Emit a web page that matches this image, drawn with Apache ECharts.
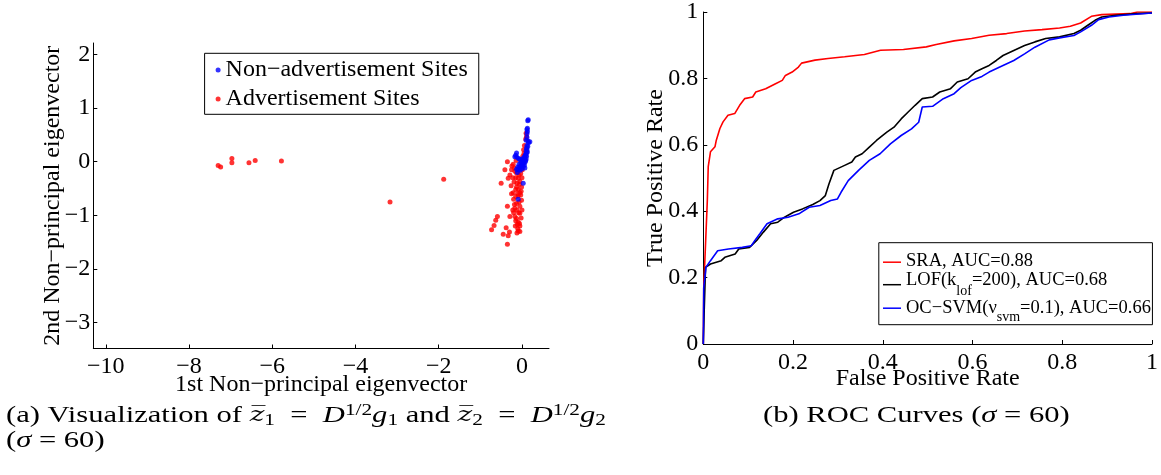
<!DOCTYPE html>
<html>
<head>
<meta charset="utf-8">
<script src="https://cdn.jsdelivr.net/npm/echarts@6/dist/echarts.min.js"></script>
<style>
  html, body { margin: 0; padding: 0; background: #fff; }
  #chart { width: 1161px; height: 475px; }
</style>
</head>
<body>
<div id="chart"></div>
<script>
// ---------- (a) projection onto the two non-principal eigenvectors ----------
const nonAdSites = [
  [0.15, 0.78], [0.14, 0.76], [0.13, 0.62], [0.12, 0.60], [0.13, 0.56], [0.12, 0.52],
  [0.12, 0.45], [0.10, 0.40], [0.15, 0.38], [0.19, 0.37], [0.16, 0.35], [0.14, 0.28],
  [0.12, 0.30], [0.11, 0.25], [0.12, 0.22], [0.10, 0.20], [0.13, 0.18], [0.11, 0.16],
  [0.09, 0.14], [0.08, 0.12], [0.11, 0.10], [0.07, 0.09], [0.05, 0.08], [0.06, 0.05],
  [0.10, 0.05], [0.04, 0.02], [0.02, 0.03], [0.09, 0.02], [0.08, 0.00], [-0.13, 0.16],
  [-0.15, 0.12], [-0.17, 0.09], [-0.12, 0.08], [-0.08, 0.06], [-0.05, 0.04], [-0.01, 0.00],
  [0.00, 0.05], [-0.03, -0.02], [-0.05, -0.09], [-0.07, -0.05], [-0.09, -0.15], [-0.10, -0.10],
  [-0.06, -0.12], [-0.02, -0.08], [0.02, -0.05], [0.05, -0.02], [0.03, -0.09], [0.06, -0.06],
  [0.07, -0.12], [-0.11, -0.20], [-0.13, -0.14], [-0.04, -0.16], [0.00, -0.13], [0.03, -0.40],
  [-0.09, -0.70]
];
const adSites = [
  // far-left outliers
  [-7.30, -0.07], [-7.24, -0.10], [-6.97, 0.06], [-6.97, -0.02], [-6.56, -0.02],
  [-6.41, 0.02], [-5.78, 0.01], [-3.17, -0.75], [-1.88, -0.33],
  // main column near zero
  [0.11, 0.47], [0.10, 0.53], [0.09, 0.42], [0.05, 0.15], [0.02, 0.10], [0.04, 0.22],
  [0.06, 0.30], [-0.35, 0.00], [-0.41, -0.15], [-0.29, -0.25], [-0.33, -0.31], [-0.50, -0.40],
  [-0.17, -0.18], [-0.09, -0.31], [-0.13, -0.47], [-0.09, -0.52], [-0.05, -0.58], [-0.35, -0.83],
  [-0.13, -0.78], [-0.17, -0.87], [-0.05, -0.83], [-0.29, -1.02], [-0.59, -1.02], [-0.63, -1.09],
  [-0.67, -1.19], [-0.73, -1.27], [-0.38, -1.23], [-0.45, -1.35], [-0.30, -1.31], [-0.33, -1.38],
  [-0.35, -1.54], [-0.13, -1.06], [-0.09, -1.13], [-0.05, -1.20], [-0.09, -1.29], [-0.17, -1.02],
  [-0.05, -0.96], [-0.01, -0.72], [-0.21, -0.05], [-0.25, -0.15], [-0.13, -0.21], [-0.05, -0.37],
  [-0.01, -0.47], [-0.21, -0.58], [-0.09, -0.64], [-0.15, -0.30], [-0.12, -0.40], [-0.10, -0.60],
  [-0.15, -0.65], [-0.20, -0.70], [-0.07, -0.75], [-0.12, -0.90], [-0.08, -0.95], [-0.20, -0.95],
  [-0.15, -1.10], [-0.10, -1.25], [-0.05, -1.30], [-0.12, -1.33], [-0.18, -0.80], [-0.22, -0.90],
  [-0.25, -0.60], [-0.03, -0.22], [0.00, -0.30], [-0.07, -0.25], [-0.18, -0.12], [-0.22, -0.30],
  [-0.15, -0.52], [-0.03, -0.62], [-0.02, -1.05], [-0.06, -1.15], [-0.16, -1.20], [-0.11, -1.17],
  [0.00, -0.90], [-0.26, -0.45], [-0.19, -0.38], [-0.24, -0.08], [-0.14, 0.02], [-0.06, -0.42],
  [0.01, -0.15], [-0.02, -0.55]
];
const eigXTicks = [-10, -8, -6, -4, -2, 0];
const eigYTicks = [-3, -2, -1, 0, 1, 2];

// ---------- (b) ROC curves: [false positive rate, true positive rate] ----------
const rocSRA = [
  [0, 0], [0.001, 0.17], [0.009, 0.433], [0.011, 0.534], [0.016, 0.579], [0.026, 0.594],
  [0.029, 0.614], [0.037, 0.649], [0.044, 0.669], [0.055, 0.689], [0.070, 0.694], [0.081, 0.719],
  [0.092, 0.739], [0.110, 0.744], [0.117, 0.759], [0.139, 0.769], [0.161, 0.784], [0.176, 0.794],
  [0.183, 0.809], [0.198, 0.819], [0.212, 0.834], [0.219, 0.846], [0.249, 0.855], [0.278, 0.860],
  [0.315, 0.865], [0.359, 0.872], [0.395, 0.885], [0.446, 0.887], [0.497, 0.895], [0.519, 0.902],
  [0.559, 0.913], [0.598, 0.920], [0.637, 0.930], [0.676, 0.935], [0.716, 0.943], [0.755, 0.947],
  [0.794, 0.952], [0.818, 0.957], [0.841, 0.967], [0.865, 0.987], [0.888, 0.992], [0.951, 0.995],
  [0.967, 1.0], [1.0, 1.0]
];
const rocLOF = [
  [0, 0], [0.002, 0.10], [0.005, 0.231], [0.016, 0.241], [0.040, 0.251], [0.048, 0.261],
  [0.071, 0.271], [0.079, 0.286], [0.103, 0.291], [0.119, 0.312], [0.134, 0.337], [0.150, 0.362],
  [0.166, 0.367], [0.181, 0.382], [0.201, 0.397], [0.221, 0.407], [0.244, 0.420], [0.260, 0.432],
  [0.272, 0.447], [0.280, 0.482], [0.291, 0.523], [0.315, 0.538], [0.331, 0.548], [0.339, 0.563],
  [0.354, 0.573], [0.370, 0.593], [0.386, 0.613], [0.409, 0.638], [0.425, 0.653], [0.441, 0.678],
  [0.456, 0.698], [0.472, 0.719], [0.488, 0.739], [0.511, 0.744], [0.527, 0.759], [0.551, 0.769],
  [0.566, 0.789], [0.590, 0.799], [0.606, 0.819], [0.621, 0.829], [0.637, 0.839], [0.653, 0.854],
  [0.668, 0.869], [0.692, 0.884], [0.716, 0.899], [0.739, 0.910], [0.763, 0.920], [0.794, 0.925],
  [0.826, 0.935], [0.841, 0.945], [0.857, 0.960], [0.873, 0.975], [0.888, 0.985], [0.920, 0.990],
  [0.967, 0.995], [1.0, 0.997]
];
const rocSVM = [
  [0, 0], [0.001, 0.17], [0.006, 0.231], [0.016, 0.251], [0.032, 0.281], [0.056, 0.286],
  [0.087, 0.291], [0.107, 0.296], [0.115, 0.312], [0.126, 0.332], [0.142, 0.362], [0.166, 0.377],
  [0.189, 0.382], [0.213, 0.392], [0.236, 0.412], [0.260, 0.417], [0.284, 0.432], [0.299, 0.437],
  [0.307, 0.457], [0.323, 0.492], [0.346, 0.523], [0.370, 0.553], [0.394, 0.573], [0.417, 0.603],
  [0.441, 0.628], [0.464, 0.648], [0.480, 0.668], [0.488, 0.714], [0.511, 0.716], [0.535, 0.739],
  [0.559, 0.754], [0.574, 0.772], [0.598, 0.794], [0.621, 0.806], [0.637, 0.819], [0.668, 0.839],
  [0.692, 0.854], [0.716, 0.874], [0.739, 0.894], [0.771, 0.916], [0.794, 0.922], [0.826, 0.929],
  [0.841, 0.940], [0.865, 0.960], [0.881, 0.977], [0.904, 0.985], [0.936, 0.990], [1.0, 0.997]
];

const SERIF = 'Liberation Serif';
const FS = 24;   // axis text size
const minus = v => (v < 0 ? '\u2212' + Math.abs(v) : String(v));
const tidy = v => String(Number(v.toFixed(2)));

const NAME_NON_AD = 'Non\u2212advertisement Sites';
const NAME_AD = 'Advertisement Sites';
const NAME_SRA = 'SRA, AUC=0.88';
const NAME_LOF = 'LOF(k_lof=200), AUC=0.68';
const NAME_SVM = 'OC\u2212SVM(\u03bd_svm=0.1), AUC=0.66';

const rocLegendText = {
  [NAME_SRA]: '{a|SRA, AUC=0.88}',
  [NAME_LOF]: '{a|LOF(k}{b|lof}{a|=200), AUC=0.68}{h| }',
  [NAME_SVM]: '{c|OC\u2212SVM(\u03bd}{b|svm}{c|=0.1), AUC=0.66}'
};

function axisCommon(name, gap) {
  return {
    axisLine: { show: true, onZero: false, lineStyle: { color: '#000', width: 1 } },
    splitLine: { show: false },
    name: name,
    nameLocation: 'middle',
    nameGap: gap,
    nameMoveOverlap: false,
    nameTextStyle: { fontFamily: SERIF, fontSize: FS, color: '#000' }
  };
}
const tickStyle = { inside: true, length: 4, lineStyle: { color: '#000' } };
const labelStyle = { color: '#000', fontFamily: SERIF, fontSize: FS };

// caption text pieces (italic symbols, sub/superscripts)
const capRich = {
  n: { fontFamily: SERIF, fontSize: 23, lineHeight: 26, fill: '#000' },
  i: { fontFamily: SERIF, fontSize: 23, lineHeight: 26, fontStyle: 'italic', fill: '#000' },
  o: { fontFamily: 'DejaVu Serif', fontSize: 21, lineHeight: 26, fontStyle: 'italic', fill: '#000' },
  s: { fontFamily: SERIF, fontSize: 16, lineHeight: 16, verticalAlign: 'bottom', fill: '#000' },
  p: { fontFamily: SERIF, fontSize: 16, lineHeight: 16, verticalAlign: 'top', fill: '#000' }
};
const captionA1 = '{n|(a) Visualization of }{o|z\u0305}{s|1}{n|  =  }{i|D}{p|1/2}{i|g}{s|1}{n| and }' +
                  '{o|z\u0305}{s|2}{n|  =  }{i|D}{p|1/2}{i|g}{s|2}';
const captionA2 = '{n|(}{i|\u03c3}{n| = 60)}';
const captionB = '{n|(b) ROC Curves (}{i|\u03c3}{n| = 60)}';

const chart = echarts.init(document.getElementById('chart'), null, { renderer: 'canvas' });

chart.setOption({
  animation: false,
  backgroundColor: '#fff',
  textStyle: { fontFamily: SERIF },
  grid: [
    { left: 93.3, top: 43, width: 455.7, height: 305.5 },
    { left: 703.3, top: 11.7, width: 455.7, height: 332.3 }
  ],
  xAxis: [
    Object.assign(axisCommon('1st Non\u2212principal eigenvector', 24), {
      gridIndex: 0, type: 'value', min: -10.3, max: 0.65,
      axisTick: Object.assign({ customValues: eigXTicks }, tickStyle),
      axisLabel: Object.assign({ customValues: eigXTicks, formatter: minus, margin: 6 }, labelStyle)
    }),
    Object.assign(axisCommon('False Positive Rate', 23), {
      gridIndex: 1, type: 'value', min: 0, max: 1, interval: 0.2,
      axisTick: tickStyle,
      axisLabel: Object.assign({ formatter: tidy, margin: 7, showMaxLabel: true, showMinLabel: true }, labelStyle)
    })
  ],
  yAxis: [
    Object.assign(axisCommon('2nd Non\u2212principal eigenvector', 29), {
      gridIndex: 0, type: 'value', min: -3.48, max: 2.21,
      axisTick: Object.assign({ customValues: eigYTicks }, tickStyle),
      axisLabel: Object.assign({ customValues: eigYTicks, formatter: minus, margin: 3 }, labelStyle)
    }),
    Object.assign(axisCommon('True Positive Rate', 36), {
      gridIndex: 1, type: 'value', min: 0, max: 1, interval: 0.2,
      axisTick: tickStyle,
      axisLabel: Object.assign({ formatter: tidy, margin: 5, showMaxLabel: true, showMinLabel: true }, labelStyle)
    })
  ],
  legend: [
    {
      data: [NAME_NON_AD, NAME_AD],
      orient: 'vertical', left: 204.6, top: 53.3,
      padding: [4.7, 11, 3.3, 11],
      itemGap: 5, itemWidth: 5, itemHeight: 5, itemTextGap: 8.6,
      icon: 'circle',
      borderColor: '#000', borderWidth: 1, backgroundColor: '#fff',
      textStyle: { fontFamily: SERIF, fontSize: FS, lineHeight: 24, color: '#000' },
      selectedMode: false
    },
    {
      data: [NAME_SRA, NAME_LOF, NAME_SVM],
      orient: 'vertical', left: 878.8, top: 242.7,
      padding: [9, 1.5, 0, 4.2],
      itemGap: 0, itemWidth: 18, itemHeight: 1.5, itemTextGap: 2,
      icon: 'rect',
      borderColor: '#000', borderWidth: 1, backgroundColor: '#fff',
      formatter: name => rocLegendText[name],
      textStyle: {
        fontFamily: SERIF, fontSize: 18.5, color: '#000',
        rich: {
          a: { fontFamily: SERIF, fontSize: 18.5, lineHeight: 21, verticalAlign: 'top', color: '#000' },
          b: { fontFamily: SERIF, fontSize: 14, lineHeight: 14, verticalAlign: 'bottom', color: '#000' },
          c: { fontFamily: SERIF, fontSize: 18.5, lineHeight: 33, verticalAlign: 'middle', color: '#000' },
          h: { fontSize: 1, lineHeight: 28 }
        }
      },
      selectedMode: false
    }
  ],
  series: [
    {
      name: NAME_AD, type: 'scatter', xAxisIndex: 0, yAxisIndex: 0,
      data: adSites, symbol: 'circle', symbolSize: 5,
      itemStyle: { color: '#ff0000' }
    },
    {
      name: NAME_NON_AD, type: 'scatter', xAxisIndex: 0, yAxisIndex: 0,
      data: nonAdSites, symbol: 'circle', symbolSize: 5,
      itemStyle: { color: '#0000ff' }
    },
    {
      name: NAME_SRA, type: 'line', xAxisIndex: 1, yAxisIndex: 1,
      data: rocSRA, showSymbol: false, symbol: 'none',
      lineStyle: { color: '#ff0000', width: 1.6 }, itemStyle: { color: '#ff0000' }
    },
    {
      name: NAME_LOF, type: 'line', xAxisIndex: 1, yAxisIndex: 1,
      data: rocLOF, showSymbol: false, symbol: 'none',
      lineStyle: { color: '#000000', width: 1.6 }, itemStyle: { color: '#000000' }
    },
    {
      name: NAME_SVM, type: 'line', xAxisIndex: 1, yAxisIndex: 1,
      data: rocSVM, showSymbol: false, symbol: 'none',
      lineStyle: { color: '#0000ff', width: 1.6 }, itemStyle: { color: '#0000ff' }
    }
  ],
  graphic: [
    {
      type: 'text', x: 6, y: 403, scaleX: 1.33,
      style: { text: captionA1, fill: '#000', fontFamily: SERIF, fontSize: 23, rich: capRich,
               align: 'left', verticalAlign: 'top' }
    },
    {
      type: 'text', x: 6, y: 428, scaleX: 1.33,
      style: { text: captionA2, fill: '#000', fontFamily: SERIF, fontSize: 23, rich: capRich,
               align: 'left', verticalAlign: 'top' }
    },
    {
      type: 'text', x: 763, y: 403, scaleX: 1.33,
      style: { text: captionB, fill: '#000', fontFamily: SERIF, fontSize: 23, rich: capRich,
               align: 'left', verticalAlign: 'top' }
    }
  ]
});
</script>
</body>
</html>
